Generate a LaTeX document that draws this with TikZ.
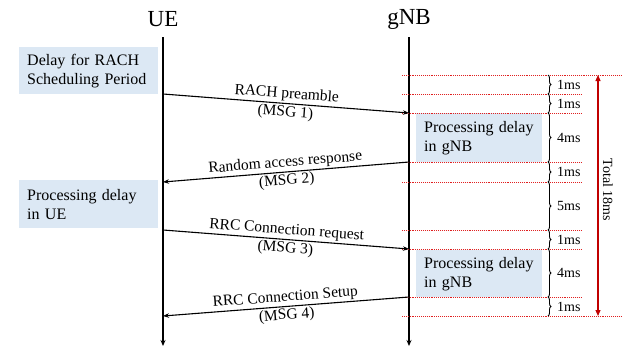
\documentclass[tikz,border=0pt]{standalone}
\usepackage{fontspec}
\setmainfont{Liberation Serif}
\usetikzlibrary{arrows.meta,decorations.pathreplacing}
\definecolor{boxblue}{HTML}{DCE8F4}
\definecolor{dotred}{HTML}{E02020}
\definecolor{arrred}{HTML}{C00000}
\tikzset{
  lifeline/.style={line width=1.1pt,-{Stealth[length=6pt,width=5pt]}},
  msgarrow/.style={line width=1.1pt,-{Stealth[length=6pt,width=4.5pt]}},
  msglabel/.style={font=\fontsize{15.5}{18}\selectfont,inner sep=1.5pt,sloped},
  bluebox/.style={fill=boxblue,anchor=north west,inner xsep=8pt,inner ysep=0pt,
    align=left,font=\fontsize{16}{19}\selectfont},
  entity/.style={font=\fontsize{23}{27}\selectfont},
  markline/.style={dotred,densely dotted,line width=0.9pt},
  msbrace/.style={decorate,decoration={brace,amplitude=3pt},line width=0.9pt},
  mslabel/.style={anchor=west,font=\fontsize{14}{16}\selectfont,inner sep=0pt},
}
\begin{document}
\begin{tikzpicture}[x=1pt,y=-1pt]
\useasboundingbox (0,0) rectangle (627,348);
% entities
\node[entity] (ue) at (163,19) {UE};
\node[entity] (gnb) at (409,19) {gNB};
\coordinate (ueT) at (163,37);
\coordinate (ueB) at (163,346);
\coordinate (gT) at (409,37);
\coordinate (gB) at (409,346);
% boxes
\node[bluebox,minimum width=139pt,minimum height=47pt,text width=123pt] (b1) at (19,47) {Delay for RACH\\Scheduling Period};
\node[bluebox,minimum width=139pt,minimum height=48pt,text width=123pt] (b2) at (19,180) {Processing delay\\in UE};
\node[bluebox,minimum width=126pt,minimum height=49pt,text width=110pt] (b3) at (416,113) {Processing delay\\in gNB};
\node[bluebox,minimum width=126pt,minimum height=47pt,text width=110pt] (b4) at (416,250) {Processing delay\\in gNB};
% lifelines
\draw[lifeline] (ueT) -- (ueB);
\draw[lifeline] (gT) -- (gB);
% marker lines
\coordinate (m0a) at (402,75);  \coordinate (m0b) at (621,75);
\coordinate (m1a) at (402,94);  \coordinate (m1b) at (582,94);
\coordinate (m2a) at (402,113); \coordinate (m2b) at (582,113);
\coordinate (m3a) at (402,162); \coordinate (m3b) at (582,162);
\coordinate (m4a) at (402,182); \coordinate (m4b) at (582,182);
\coordinate (m5a) at (402,230); \coordinate (m5b) at (582,230);
\coordinate (m6a) at (402,249); \coordinate (m6b) at (582,249);
\coordinate (m7a) at (402,297); \coordinate (m7b) at (582,297);
\coordinate (m8a) at (402,316); \coordinate (m8b) at (621,316);
\foreach \i in {0,...,8} {\draw[markline] (m\i a) -- (m\i b);}
% braces
\foreach \t/\b/\l [count=\k] in {75/94/1ms,94/113/1ms,113/162/4ms,162/182/1ms,182/230/5ms,230/249/1ms,249/297/4ms,297/316/1ms} {
  \coordinate (bt\k) at (548,\t);
  \coordinate (bb\k) at (548,\b);
  \draw[msbrace] (bt\k) -- (bb\k);
  \node[mslabel] (ms\k) at (557,{(\t+\b)/2}) {\l};
}
% total arrow
\coordinate (tt) at (598,75);
\coordinate (tb) at (598,316);
\draw[arrred,line width=1.2pt,{Triangle[length=6pt,width=5pt]}-{Triangle[length=6pt,width=5pt]}] (tt) -- (tb);
\node[rotate=-90,font=\fontsize{14}{16}\selectfont] (total) at (608,190) {Total 18ms};
% messages
\coordinate (u1) at (163,94);  \coordinate (g1) at (409,113);
\coordinate (g2) at (409,162); \coordinate (u2) at (163,182);
\coordinate (u3) at (163,230); \coordinate (g3) at (409,249);
\coordinate (g4) at (409,297); \coordinate (u4) at (163,316);
\draw[msgarrow] (u1) -- (g1)
  node[msglabel,midway,above] (l1a) {RACH preamble}
  node[msglabel,midway,below] (l1b) {(MSG 1)};
\draw[msgarrow] (g2) -- (u2)
  node[msglabel,midway,above] (l2a) {Random access response}
  node[msglabel,midway,below] (l2b) {(MSG 2)};
\draw[msgarrow] (u3) -- (g3)
  node[msglabel,midway,above] (l3a) {RRC Connection request}
  node[msglabel,midway,below] (l3b) {(MSG 3)};
\draw[msgarrow] (g4) -- (u4)
  node[msglabel,midway,above] (l4a) {RRC Connection Setup}
  node[msglabel,midway,below] (l4b) {(MSG 4)};
\end{tikzpicture}
\end{document}
